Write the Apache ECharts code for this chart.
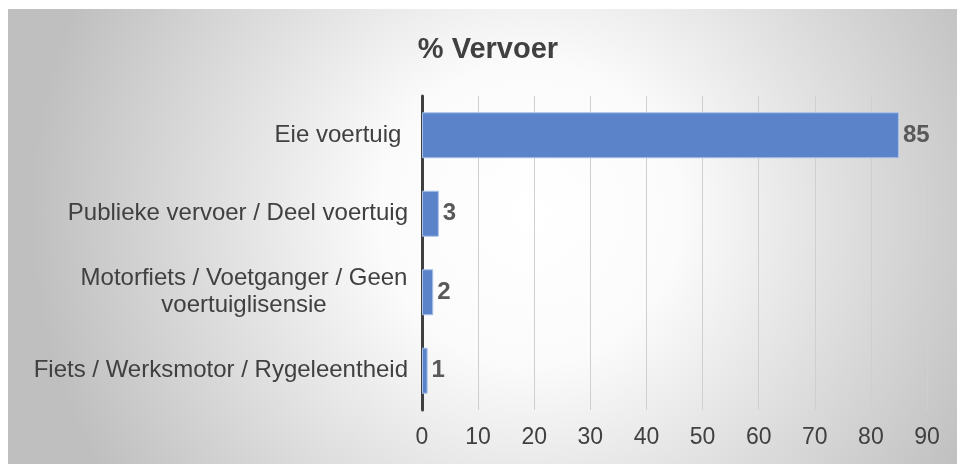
<!DOCTYPE html>
<html>
<head>
<meta charset="utf-8">
<script src="https://cdn.jsdelivr.net/npm/echarts@6/dist/echarts.min.js"></script>
<style>
  html, body { margin: 0; padding: 0; background: #fff; }
  #chart { width: 957px; height: 464px; }
</style>
</head>
<body>
<div id="chart"></div>
<script>
// categories from bottom to top (category axis runs upward)
const categories = [
  "Fiets / Werksmotor / Rygeleentheid",
  "Motorfiets / Voetganger / Geen\nvoertuiglisensie",
  "Publieke vervoer / Deel voertuig",
  "Eie voertuig "
];
const values = [1, 2, 3, 85];
const xTicks = [0, 10, 20, 30, 40, 50, 60, 70, 80, 90];

const FONT = "Liberation Sans, Arial, sans-serif";
const chart = echarts.init(document.getElementById("chart"));

chart.setOption({
  animation: false,
  textStyle: { fontFamily: FONT },
  graphic: [{
    type: "rect",
    z: -10,
    silent: true,
    shape: { x: 8, y: 9, width: 949, height: 455 },
    style: {
      fill: new echarts.graphic.RadialGradient(0.55, 0.45, 1.1, [
        { offset: 0, color: "#ffffff" },
        { offset: 0.3, color: "#fbfbfb" },
        { offset: 1, color: "#bfbfbf" }
      ])
    }
  }],
  title: {
    text: "% Vervoer",
    left: 483,
    top: 30,
    textAlign: "center",
    textStyle: { fontSize: 29, fontWeight: "bold", color: "#404040", fontFamily: FONT }
  },
  grid: { left: 422, right: 30, top: 96, bottom: 54, containLabel: false },
  xAxis: {
    type: "value",
    min: 0,
    max: 90,
    interval: 10,
    axisLine: { show: false },
    axisTick: { show: false },
    axisLabel: {
      color: "#404040",
      fontSize: 23,
      margin: 16,
      formatter: (v) => xTicks.includes(v) ? String(v) : ""
    },
    splitLine: { show: true, lineStyle: { color: "#cfcfcf", width: 1 } }
  },
  yAxis: {
    type: "category",
    data: categories,
    axisLine: { show: true, lineStyle: { color: "#3f3f3f", width: 3 } },
    axisTick: { show: false },
    axisLabel: {
      color: "#404040",
      fontSize: 24,
      margin: 14,
      lineHeight: 27,
      formatter: (v) => v.includes("\n")
        ? v.split("\n").map((s) => "{c|" + s + "}").join("\n")
        : v,
      rich: { c: { width: 328, align: "center", fontSize: 24, color: "#404040", lineHeight: 27 } }
    }
  },
  series: [{
    type: "bar",
    data: values,
    barWidth: 46,
    itemStyle: { color: "#5b83c9", borderColor: "#a9c1e8", borderWidth: 1 },
    label: {
      show: true,
      position: "right",
      distance: 4,
      fontSize: 24,
      fontWeight: "bold",
      color: "#595959"
    }
  }]
});
</script>
</body>
</html>
